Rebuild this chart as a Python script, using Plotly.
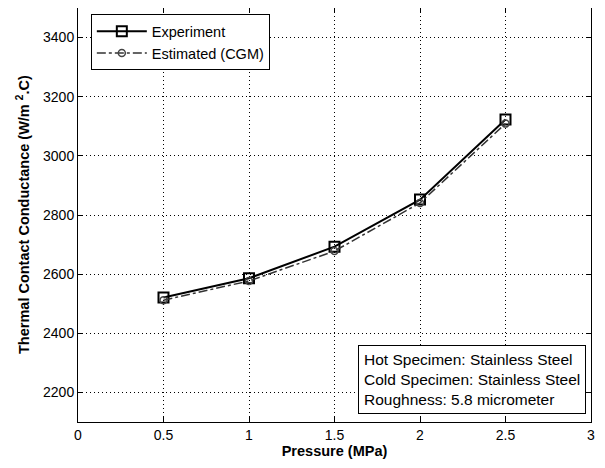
import plotly.graph_objects as go

pressure = [0.5, 1.0, 1.5, 2.0, 2.5]
experiment = [2521, 2586, 2693, 2852, 3123]
estimated = [2512, 2577, 2678, 2841, 3109]

x_ticks = [0, 0.5, 1, 1.5, 2, 2.5, 3]
y_ticks = [2200, 2400, 2600, 2800, 3000, 3200, 3400]

font = "Liberation Sans, Arial, sans-serif"

fig = go.Figure()
fig.add_trace(go.Scatter(
    x=pressure, y=experiment, mode="lines+markers", name="Experiment",
    line=dict(color="black", width=2),
    marker=dict(symbol="square-open", size=10, color="black", line=dict(width=2)),
))
fig.add_trace(go.Scatter(
    x=pressure, y=estimated, mode="lines+markers", name="Estimated (CGM)",
    line=dict(color="#333333", width=1.5, dash="dashdot"),
    marker=dict(symbol="circle-open", size=7, color="#444444", line=dict(width=1.5)),
))

axis_common = dict(
    showline=True, linecolor="black", linewidth=1, mirror="ticks",
    ticks="inside", ticklen=5, tickcolor="black",
    showgrid=True, gridcolor="black", gridwidth=1, griddash="1px,3px",
    zeroline=False, tickfont=dict(family=font, size=14, color="black"),
    automargin=False,
)

fig.update_xaxes(range=[0, 3], tickvals=x_ticks, ticktext=[str(t) for t in x_ticks],
                 title=dict(text="<b>Pressure (MPa)</b>", font=dict(family=font, size=14.5, color="black"), standoff=2),
                 **axis_common)
fig.update_yaxes(range=[2100, 3500], tickvals=y_ticks, **axis_common)

# y-axis title
fig.add_annotation(
    xref="paper", yref="paper", x=0, y=0.5, xanchor="center", yanchor="middle",
    xshift=-55, textangle=-90, showarrow=False,
    text="<b>Thermal Contact Conductance (W/m <sup>2</sup>.C)</b>",
    font=dict(family=font, size=14.5, color="black"),
)

fig.add_annotation(
    xref="paper", yref="paper", x=0.99, y=0.02, xanchor="right", yanchor="bottom",
    text="Hot Specimen: Stainless Steel<br>Cold Specimen: Stainless Steel<br>Roughness: 5.8 micrometer",
    showarrow=False, align="left", bordercolor="black", borderwidth=1, borderpad=5,
    bgcolor="white", font=dict(family=font, size=15.5, color="black"),
)

# page body has an 8px margin; figure sized so that it fits in the 605x468 window
fig.update_layout(
    width=589, height=452,
    margin=dict(l=70, r=6, t=0, b=38),
    paper_bgcolor="white", plot_bgcolor="white",
    font=dict(family=font, size=14, color="black"),
    legend=dict(x=0.025, y=0.985, xanchor="left", yanchor="top",
                bordercolor="black", borderwidth=1, bgcolor="white",
                font=dict(family=font, size=14.5, color="black"),
                itemwidth=50, tracegroupgap=2),
    showlegend=True,
)

fig.write_html("out.html")
